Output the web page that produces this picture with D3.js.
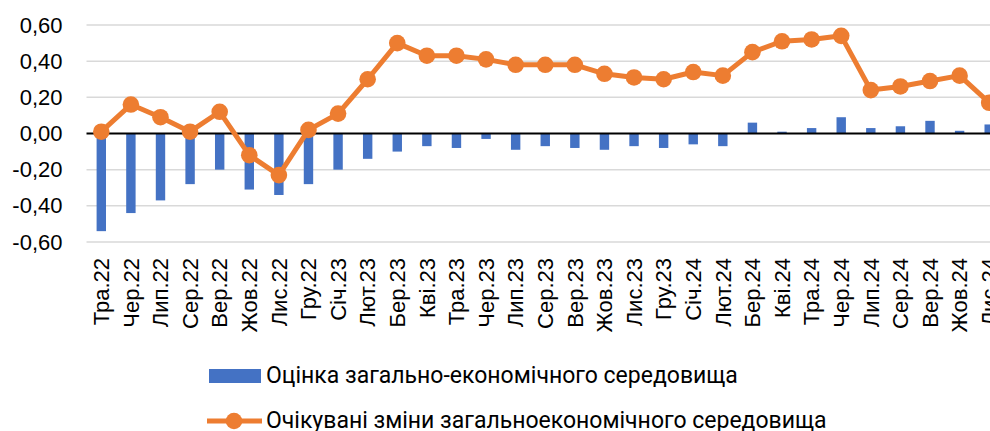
<!DOCTYPE html>
<html>
<head>
<meta charset="utf-8">
<script src="https://cdn.jsdelivr.net/npm/d3@7"></script>
<style>
  body { margin: 0; background: #fff; }
  svg { display: block; }
</style>
</head>
<body>
<div id="chart"></div>
<script>
// the data
let months = ["Тра.22", "Чер.22", "Лип.22", "Сер.22", "Вер.22", "Жов.22", "Лис.22", "Гру.22",
  "Січ.23", "Лют.23", "Бер.23", "Кві.23", "Тра.23", "Чер.23", "Лип.23", "Сер.23", "Вер.23",
  "Жов.23", "Лис.23", "Гру.23", "Січ.24", "Лют.24", "Бер.24", "Кві.24", "Тра.24", "Чер.24",
  "Лип.24", "Сер.24", "Вер.24", "Жов.24", "Лис.24"];

let assessment = [-0.54, -0.44, -0.37, -0.28, -0.20, -0.31, -0.34, -0.28,
  -0.20, -0.14, -0.10, -0.07, -0.08, -0.03, -0.09, -0.07, -0.08,
  -0.09, -0.07, -0.08, -0.06, -0.07, 0.06, 0.01, 0.03, 0.09,
  0.03, 0.04, 0.07, 0.015, 0.05];

let expected = [0.01, 0.16, 0.09, 0.01, 0.12, -0.12, -0.23, 0.02,
  0.11, 0.30, 0.50, 0.43, 0.43, 0.41, 0.38, 0.38, 0.38,
  0.33, 0.31, 0.30, 0.34, 0.32, 0.45, 0.51, 0.52, 0.54,
  0.24, 0.26, 0.29, 0.32, 0.17];

let yTicks = [-0.6, -0.4, -0.2, 0, 0.2, 0.4, 0.6];

let legendNames = ["Оцінка загально-економічного середовища",
  "Очікувані зміни загальноекономічного середовища"];

let blue = "#4472C4";
let orange = "#ED7D31";

let width = 990, height = 431;
let plotLeft = 86.5, plotRight = 1004, plotTop = 25, plotBottom = 242;

let svg = d3.select("#chart").append("svg")
  .attr("width", width)
  .attr("height", height);

let x = d3.scaleBand()
  .domain(months)
  .range([plotLeft, plotRight]);

let y = d3.scaleLinear()
  .domain([-0.6, 0.6])
  .range([plotBottom, plotTop]);

// gridlines
svg.append("g")
  .selectAll("line")
  .data(yTicks.filter(d => d !== 0))
  .enter()
  .append("line")
  .attr("x1", plotLeft)
  .attr("x2", plotRight)
  .attr("y1", d => y(d))
  .attr("y2", d => y(d))
  .attr("stroke", "#d9d9d9")
  .attr("stroke-width", 1.5);

// y axis labels
let fmt = d => d.toFixed(2).replace(".", ",");
let yAxis = svg.append("g")
  .attr("transform", `translate(${plotLeft}, 0)`)
  .call(d3.axisLeft(y).tickValues(yTicks).tickFormat(fmt).tickSize(0).tickPadding(24));
yAxis.select(".domain").remove();
yAxis.selectAll("text")
  .attr("font-family", "Liberation Sans, Arial, sans-serif")
  .attr("font-size", 22)
  .attr("fill", "#000");

// bars
let barW = 9.4;
svg.append("g")
  .selectAll("rect")
  .data(assessment)
  .enter()
  .append("rect")
  .attr("x", (d, i) => x(months[i]) + x.bandwidth() / 2 - barW / 2)
  .attr("y", d => y(Math.max(0, d)))
  .attr("width", barW)
  .attr("height", d => Math.abs(y(d) - y(0)))
  .attr("fill", blue);

// zero line
svg.append("line")
  .attr("x1", plotLeft)
  .attr("x2", plotRight)
  .attr("y1", y(0))
  .attr("y2", y(0))
  .attr("stroke", "#000")
  .attr("stroke-width", 1.8);

// x axis labels, turned to read bottom-up
let xAxis = svg.append("g")
  .attr("transform", `translate(0, ${plotBottom + 16})`)
  .call(d3.axisBottom(x).tickSize(0).tickPadding(0));
xAxis.select(".domain").remove();
xAxis.selectAll("text")
  .attr("font-family", "Liberation Sans, Arial, sans-serif")
  .attr("font-size", 22)
  .attr("fill", "#000")
  .attr("transform", "rotate(-90)")
  .attr("text-anchor", "end")
  .attr("dx", 0)
  .attr("dy", "0.35em")
  .attr("x", 0)
  .attr("y", 0);

// line with markers
let cx = (d, i) => x(months[i]) + x.bandwidth() / 2;
let line = d3.line()
  .x(cx)
  .y(d => y(d));

svg.append("path")
  .datum(expected)
  .attr("d", line)
  .attr("fill", "none")
  .attr("stroke", orange)
  .attr("stroke-width", 5)
  .attr("stroke-linejoin", "round");

svg.append("g")
  .selectAll("circle")
  .data(expected)
  .enter()
  .append("circle")
  .attr("cx", cx)
  .attr("cy", d => y(d))
  .attr("r", 8.3)
  .attr("fill", orange);

// legend
let legend = svg.append("g");
legend.append("rect")
  .attr("x", 209)
  .attr("y", 369)
  .attr("width", 52)
  .attr("height", 14)
  .attr("fill", blue);
legend.append("line")
  .attr("x1", 207)
  .attr("x2", 262)
  .attr("y1", 421)
  .attr("y2", 421)
  .attr("stroke", orange)
  .attr("stroke-width", 5);
legend.append("circle")
  .attr("cx", 234)
  .attr("cy", 421)
  .attr("r", 8.3)
  .attr("fill", orange);
legend.selectAll("text")
  .data(legendNames)
  .enter()
  .append("text")
  .attr("x", 266)
  .attr("y", (d, i) => i === 0 ? 383 : 428)
  .attr("font-family", "Roboto, sans-serif")
  .attr("font-size", 23)
  .attr("fill", "#000")
  .text(d => d);
</script>
</body>
</html>
